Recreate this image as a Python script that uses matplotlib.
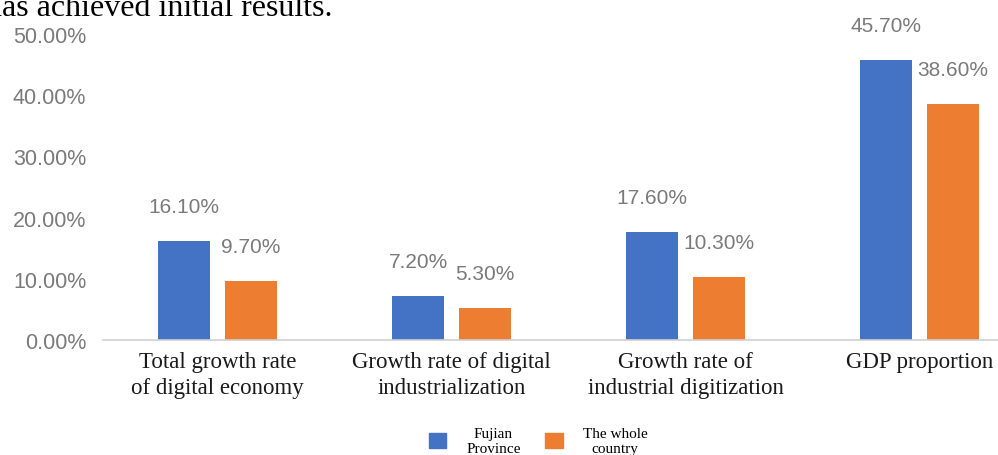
import numpy as np
import matplotlib
matplotlib.use('Agg')
import matplotlib.pyplot as plt
from matplotlib.patches import Patch
from matplotlib.ticker import FuncFormatter

categories = ['Total growth rate\nof digital economy',
              'Growth rate of digital\nindustrialization',
              'Growth rate of\nindustrial digitization',
              'GDP proportion']
fujian = [16.1, 7.2, 17.6, 45.7]
country = [9.7, 5.3, 10.3, 38.6]
series_names = ['Fujian\nProvince', 'The whole\ncountry']
yticks = [0, 10, 20, 30, 40, 50]

blue = '#4472C4'
orange = '#ED7D31'
grey = '#7a7a7a'
sans = 'Liberation Sans'
serif = 'Liberation Serif'

fig = plt.figure(figsize=(9.98, 4.56), dpi=100)
ax = fig.add_axes([103 / 998, 115 / 456, 931 / 998, 306 / 456])

x = np.arange(len(categories))
w = 0.222
off = 0.143
b1 = ax.bar(x - off, fujian, w, color=blue)
b2 = ax.bar(x + off, country, w, color=orange)

for bars, vals in [(b1, fujian), (b2, country)]:
    for rect, v in zip(bars, vals):
        ax.annotate('{:.2f}%'.format(v),
                    xy=(rect.get_x() + rect.get_width() / 2, v),
                    xytext=(0, 18), textcoords='offset points',
                    ha='center', va='bottom', fontsize=15,
                    family=sans, color=grey, annotation_clip=False)

ax.set_xlim(-0.49, 3.49)
ax.set_ylim(0, 50)
ax.set_yticks(yticks)
ax.yaxis.set_major_formatter(FuncFormatter(lambda v, p: '{:.2f}%'.format(v)))
ax.set_xticks(x)
ax.set_xticklabels(categories, family=serif, fontsize=16.5, color='#1a1a1a',
                   linespacing=1.3)
for lab in ax.get_yticklabels():
    lab.set_family(sans)
    lab.set_fontsize(15.5)
    lab.set_color(grey)
ax.tick_params(axis='y', length=0, pad=12)
ax.tick_params(axis='x', length=0, pad=8)
for s in ['top', 'right', 'left']:
    ax.spines[s].set_visible(False)
ax.spines['bottom'].set_color('#d0d0d0')
ax.spines['bottom'].set_linewidth(1.2)

handles = [Patch(color=blue), Patch(color=orange)]
leg = fig.legend(handles, series_names, loc='upper center',
                 bbox_to_anchor=(538 / 998, 1 - 420 / 456), ncol=2,
                 frameon=False, prop={'family': serif, 'size': 11},
                 handlelength=1.15, handleheight=1.15, handletextpad=1.3,
                 columnspacing=1.6, borderpad=0, labelspacing=0)
for t in leg.get_texts():
    t.set_multialignment('center')

fig.text(333 / 998, 1 - 16 / 456, 'has achieved initial results.',
         family=serif, fontsize=23, ha='right', va='baseline', color='black')

fig.savefig('out.png', dpi=100)
